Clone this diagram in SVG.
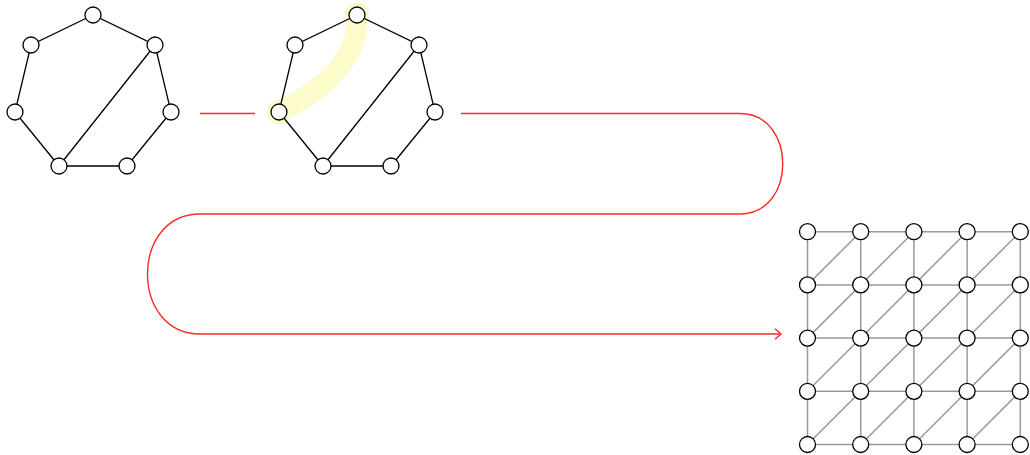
<svg xmlns="http://www.w3.org/2000/svg" width="1030" height="455" viewBox="0 0 1030 455">
<style>
.n{fill:#fff;stroke:#000;stroke-width:1.3}
.e{stroke:#000;stroke-width:1.3;fill:none}
.g{stroke:#999;stroke-width:1.5;fill:none}
.r{stroke:#ff2a2a;stroke-width:1.4;fill:none}
.hl{stroke:#fbfbcc;stroke-width:21;fill:none;stroke-linecap:round}
.hc{fill:#fbfbcc}
</style>
<defs>
<marker id="arr" markerWidth="10" markerHeight="12" refX="7" refY="6" orient="auto" markerUnits="userSpaceOnUse">
<path d="M1,0.7 L7,6 L1,11.3" fill="none" stroke="#ff2a2a" stroke-width="1.4"/>
</marker>
</defs>
<rect width="1030" height="455" fill="#fff"/>
<g id="highlight">
<path class="hl" d="M279 112 Q360 72 357 15"/>
<circle class="hc" cx="357" cy="15" r="12.5"/>
<circle class="hc" cx="279" cy="112" r="12.5"/>
</g>
<g id="connectors">
<g id="graph1-edges">
<path class="e" d="M93 15 L31 45 L15 112 L59 166 L127 166 L171 112 L155 45 Z M155 45 L59 166"/>
</g>
<g id="graph2-edges">
<path class="e" d="M357 15 L295 45 L279 112 L323 166 L391 166 L435 112 L419 45 Z M419 45 L323 166"/>
</g>
<g id="grid-edges">
<path class="g" d="M807.5 231.7H1020.3M807.5 284.9H1020.3M807.5 338.1H1020.3M807.5 391.3H1020.3M807.5 444.5H1020.3M807.5 231.7V444.5M860.7 231.7V444.5M913.9 231.7V444.5M967.1 231.7V444.5M1020.3 231.7V444.5"/>
<path class="g" d="M807.5 284.9L860.7 231.7M807.5 338.1L913.9 231.7M807.5 391.3L967.1 231.7M807.5 444.5L1020.3 231.7M860.7 444.5L1020.3 284.9M913.9 444.5L1020.3 338.1M967.1 444.5L1020.3 391.3"/>
</g>
<g id="flow">
<path class="r" d="M200 113.5H255"/>
<path class="r" d="M461 113.5H740C797 113.5 797 214 740 214H200C130 214 130 334 200 334H781" marker-end="url(#arr)"/>
</g>
</g>
<g id="g1-top"><circle class="n" cx="93" cy="15" r="8"/></g>
<g id="g1-ul"><circle class="n" cx="31" cy="45" r="8"/></g>
<g id="g1-ur"><circle class="n" cx="155" cy="45" r="8"/></g>
<g id="g1-l"><circle class="n" cx="15" cy="112" r="8"/></g>
<g id="g1-r"><circle class="n" cx="171" cy="112" r="8"/></g>
<g id="g1-bl"><circle class="n" cx="59" cy="166" r="8"/></g>
<g id="g1-br"><circle class="n" cx="127" cy="166" r="8"/></g>
<g id="g2-top"><circle class="n" cx="357" cy="15" r="8"/></g>
<g id="g2-ul"><circle class="n" cx="295" cy="45" r="8"/></g>
<g id="g2-ur"><circle class="n" cx="419" cy="45" r="8"/></g>
<g id="g2-l"><circle class="n" cx="279" cy="112" r="8"/></g>
<g id="g2-r"><circle class="n" cx="435" cy="112" r="8"/></g>
<g id="g2-bl"><circle class="n" cx="323" cy="166" r="8"/></g>
<g id="g2-br"><circle class="n" cx="391" cy="166" r="8"/></g>
<g id="grid-0-0"><circle class="n" cx="807.5" cy="231.7" r="8"/></g>
<g id="grid-1-0"><circle class="n" cx="860.7" cy="231.7" r="8"/></g>
<g id="grid-2-0"><circle class="n" cx="913.9" cy="231.7" r="8"/></g>
<g id="grid-3-0"><circle class="n" cx="967.1" cy="231.7" r="8"/></g>
<g id="grid-4-0"><circle class="n" cx="1020.3" cy="231.7" r="8"/></g>
<g id="grid-0-1"><circle class="n" cx="807.5" cy="284.9" r="8"/></g>
<g id="grid-1-1"><circle class="n" cx="860.7" cy="284.9" r="8"/></g>
<g id="grid-2-1"><circle class="n" cx="913.9" cy="284.9" r="8"/></g>
<g id="grid-3-1"><circle class="n" cx="967.1" cy="284.9" r="8"/></g>
<g id="grid-4-1"><circle class="n" cx="1020.3" cy="284.9" r="8"/></g>
<g id="grid-0-2"><circle class="n" cx="807.5" cy="338.1" r="8"/></g>
<g id="grid-1-2"><circle class="n" cx="860.7" cy="338.1" r="8"/></g>
<g id="grid-2-2"><circle class="n" cx="913.9" cy="338.1" r="8"/></g>
<g id="grid-3-2"><circle class="n" cx="967.1" cy="338.1" r="8"/></g>
<g id="grid-4-2"><circle class="n" cx="1020.3" cy="338.1" r="8"/></g>
<g id="grid-0-3"><circle class="n" cx="807.5" cy="391.3" r="8"/></g>
<g id="grid-1-3"><circle class="n" cx="860.7" cy="391.3" r="8"/></g>
<g id="grid-2-3"><circle class="n" cx="913.9" cy="391.3" r="8"/></g>
<g id="grid-3-3"><circle class="n" cx="967.1" cy="391.3" r="8"/></g>
<g id="grid-4-3"><circle class="n" cx="1020.3" cy="391.3" r="8"/></g>
<g id="grid-0-4"><circle class="n" cx="807.5" cy="444.5" r="8"/></g>
<g id="grid-1-4"><circle class="n" cx="860.7" cy="444.5" r="8"/></g>
<g id="grid-2-4"><circle class="n" cx="913.9" cy="444.5" r="8"/></g>
<g id="grid-3-4"><circle class="n" cx="967.1" cy="444.5" r="8"/></g>
<g id="grid-4-4"><circle class="n" cx="1020.3" cy="444.5" r="8"/></g>
</svg>
